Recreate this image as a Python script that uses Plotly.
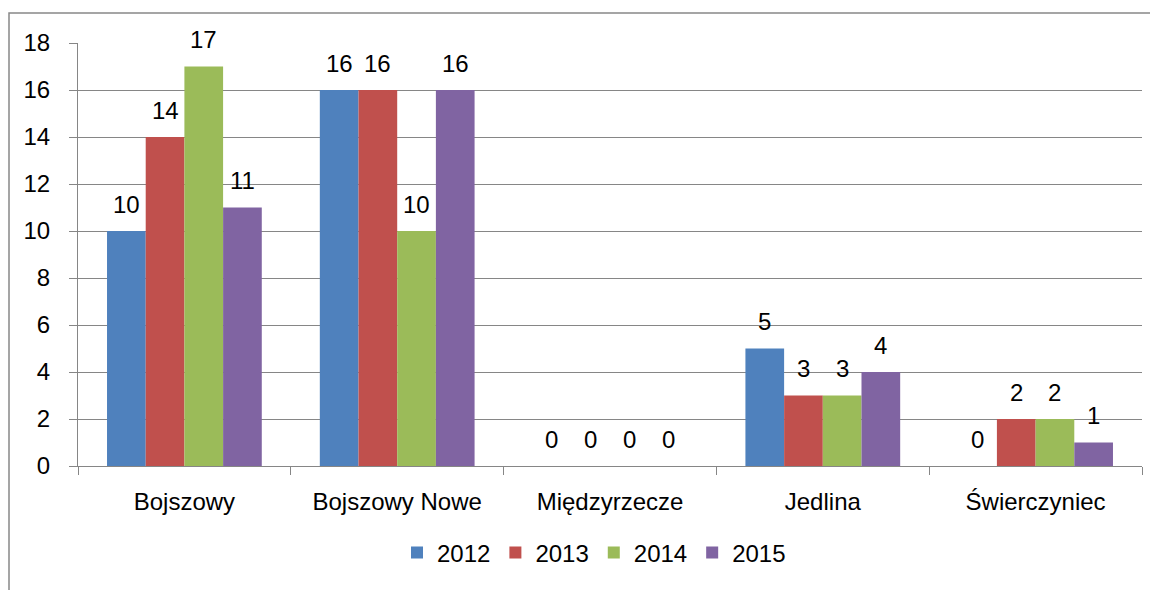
import plotly.graph_objects as go

categories = ["Bojszowy", "Bojszowy Nowe", "Międzyrzecze", "Jedlina", "Świerczyniec"]
years = ["2012", "2013", "2014", "2015"]
values_2012 = [10, 16, 0, 5, 0]
values_2013 = [14, 16, 0, 3, 2]
values_2014 = [17, 10, 0, 3, 2]
values_2015 = [11, 16, 0, 4, 1]
colors = ["#4F81BD", "#C0504D", "#9BBB59", "#8064A2"]

font_family = "Liberation Sans, Arial, sans-serif"
grid_color = "#868686"
fs = 24

# page has 8px body margin, so the figure is 8px smaller and shifted
W, H = 1150, 582
L, R, T, B = 70, 16, 35, 124
pw, ph = W - L - R, H - T - B
bargap = 1.5 / 5.5
bar_w = pw / len(categories) * (1 - bargap) / len(years)


def px_x(x):
    return (x - 8 - L) / pw


def px_y(y):
    return (H - B - (y - 8)) / ph


series = [values_2012, values_2013, values_2014, values_2015]
fig = go.Figure()
annotations = []
for i, (year, vals, col) in enumerate(zip(years, series, colors)):
    fig.add_trace(go.Bar(
        x=categories, y=vals, name=year,
        marker=dict(color=col, line=dict(width=0)),
    ))
    for cat, v in zip(categories, vals):
        annotations.append(dict(
            x=cat, y=v, xref="x", yref="y", text=str(v), showarrow=False,
            xshift=(i - 1.5) * bar_w, yshift=27, yanchor="middle",
            font=dict(size=fs, color="black", family=font_family),
        ))

fig.update_layout(
    width=W, height=H,
    margin=dict(l=L, r=R, t=T, b=B),
    paper_bgcolor="white", plot_bgcolor="white",
    barmode="group", bargap=bargap, bargroupgap=0,
    font=dict(family=font_family, size=fs, color="black"),
    showlegend=True,
    legend=dict(orientation="h", x=px_x(594), xanchor="center", y=px_y(553), yanchor="middle",
                font=dict(size=fs), itemwidth=30, traceorder="normal"),
    annotations=annotations,
    shapes=[dict(type="rect", xref="paper", yref="paper",
                 x0=px_x(9), x1=px_x(1175), y0=px_y(620), y1=px_y(13),
                 line=dict(color="#888888", width=1.5), layer="below")],
)
fig.update_xaxes(
    showline=True, linecolor=grid_color, linewidth=1,
    ticks="outside", ticklen=8, tickcolor=grid_color, tickson="boundaries",
    showgrid=False, tickfont=dict(size=fs), ticklabelstandoff=14,
)
fig.update_yaxes(
    range=[0, 18], dtick=2, tick0=0,
    showline=True, linecolor=grid_color, linewidth=1,
    ticks="outside", ticklen=8, tickcolor=grid_color,
    showgrid=True, gridcolor=grid_color, gridwidth=1,
    zeroline=False, tickfont=dict(size=fs), ticklabelstandoff=14,
)

fig.write_html("out.html")
